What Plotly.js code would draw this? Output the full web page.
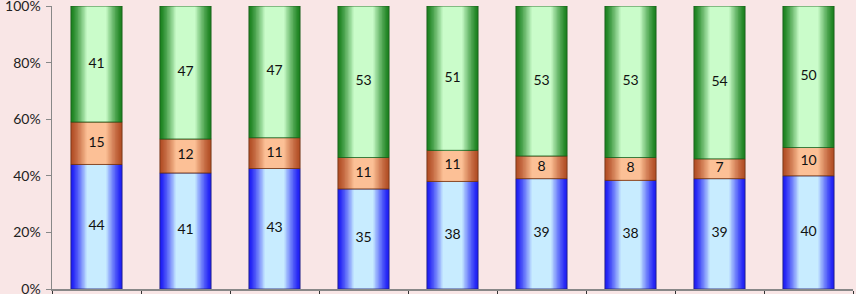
<!DOCTYPE html>
<html><head><meta charset="utf-8">
<script src="https://cdn.plot.ly/plotly-3.0.1.min.js"></script>
<style>html,body{margin:0;padding:0;background:#f9e6e6;}#c{width:856px;height:294px;}</style>
</head><body><div id="c"></div>
<script>
const categories = ['1','2','3','4','5','6','7','8','9'];
const blueVals   = [44, 41, 43, 35, 38, 39, 38, 39, 40];
const orangeVals = [15, 12, 11, 11, 11,  8,  8,  7, 10];
const greenVals  = [41, 47, 47, 53, 51, 53, 53, 54, 50];
const yTickVals  = [0, 20, 40, 60, 80, 100];
const yTickText  = ['0%', '20%', '40%', '60%', '80%', '100%'];

const series = [
  {vals: blueVals,   edge: [30, 30, 245],  center: [200, 236, 255], line: '#20207a'},
  {vals: orangeVals, edge: [178, 78, 38],  center: [252, 192, 150], line: '#6a2e10'},
  {vals: greenVals,  edge: [28, 130, 32],  center: [202, 252, 202], line: '#1a5c1a'}
];

const totals = categories.map((c, j) => series.reduce((a, s) => a + s.vals[j], 0));
const W = 0.575, N = 14;
const traces = [];
const baseAcc = categories.map(() => 0);
const mix = (a, b, t) => 'rgb(' + a.map((v, k) => Math.round(v + (b[k] - v) * t)).join(',') + ')';

series.forEach(s => {
  const pct = s.vals.map((v, j) => v / totals[j] * 100);
  const base = baseAcc.slice();
  for (let i = 0; i < N; i++) {
    const f = 1 - i * (0.72 / (N - 1));
    const t = Math.min(1, Math.pow(i / (N - 3), 1.25));
    traces.push({type: 'bar', x: categories, y: pct, base: base, width: W * f,
      marker: {color: mix(s.edge, s.center, t), line: {width: 0}}, hoverinfo: 'skip', showlegend: false});
  }
  traces.push({type: 'bar', x: categories, y: pct, base: base, width: W,
    marker: {color: 'rgba(0,0,0,0)', line: {width: 0.8, color: s.line}}, hoverinfo: 'skip', showlegend: false});
  traces.push({type: 'scatter', mode: 'text', x: categories,
    y: pct.map((p, j) => base[j] + p / 2), text: s.vals.map(String),
    textfont: {family: 'Lato, Carlito, sans-serif', size: 14, color: '#111'}, hoverinfo: 'skip', showlegend: false});
  pct.forEach((p, j) => baseAcc[j] += p);
});

const layout = {
  width: 856, height: 294,
  margin: {l: 52, r: 3, t: 6, b: 5},
  paper_bgcolor: '#f9e6e6', plot_bgcolor: '#f9e6e6',
  barmode: 'overlay',
  showlegend: false,
  xaxis: {type: 'category', showticklabels: false, tickson: 'boundaries', ticks: 'outside', ticklen: 5,
    tickcolor: '#333', showline: true, linecolor: '#888', linewidth: 1.5, showgrid: false, zeroline: false, fixedrange: true},
  yaxis: {range: [0, 100], tickvals: yTickVals, ticktext: yTickText, ticks: 'outside', ticklen: 5,
    ticklabeloverflow: 'allow', ticklabelstandoff: 2,
    tickcolor: '#888', showline: true, linecolor: '#888', linewidth: 1.5, showgrid: false, zeroline: false,
    tickfont: {family: 'Lato, Carlito, sans-serif', size: 14, color: '#222'}, fixedrange: true}
};
Plotly.newPlot('c', traces, layout, {staticPlot: true, displayModeBar: false});
</script></body></html>
